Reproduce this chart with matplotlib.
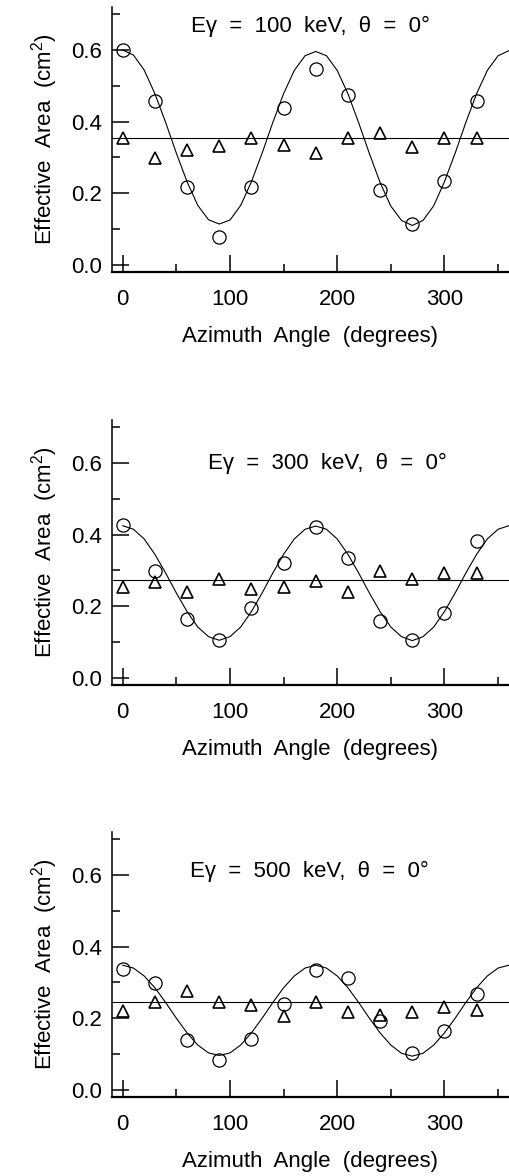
import matplotlib
matplotlib.use('Agg')
import matplotlib.pyplot as plt
from matplotlib.ticker import MultipleLocator

plt.rcParams['font.family'] = ['Liberation Sans', 'DejaVu Sans']
plt.rcParams['mathtext.fontset'] = 'custom'
plt.rcParams['mathtext.rm'] = 'Liberation Sans'
plt.rcParams['mathtext.it'] = 'Liberation Sans'

# azimuth angles of the simulated points (degrees)
angles = [0, 30, 60, 90, 120, 150, 180, 210, 240, 270, 300, 330]

energies = ['100', '300', '500']

# open circles
circ_100 = [0.600, 0.459, 0.217, 0.078, 0.217, 0.438, 0.548, 0.474, 0.210, 0.115, 0.233, 0.459]
circ_300 = [0.428, 0.299, 0.164, 0.105, 0.194, 0.322, 0.421, 0.336, 0.158, 0.105, 0.180, 0.381]
circ_500 = [0.337, 0.298, 0.139, 0.083, 0.141, 0.240, 0.336, 0.312, 0.193, 0.103, 0.164, 0.268]

# open triangles
tri_100 = [0.355, 0.298, 0.320, 0.332, 0.355, 0.334, 0.312, 0.355, 0.369, 0.328, 0.355, 0.355]
tri_300 = [0.253, 0.269, 0.241, 0.277, 0.247, 0.255, 0.271, 0.241, 0.299, 0.277, 0.292, 0.292]
tri_500 = [0.221, 0.246, 0.276, 0.246, 0.238, 0.207, 0.245, 0.218, 0.209, 0.218, 0.230, 0.224]

# flat line levels
flat = [0.353, 0.274, 0.244]

# fitted curves every 10 degrees (0..360)
curve_ang = list(range(0, 361, 10))
curve_100 = [0.600, 0.586, 0.544, 0.478, 0.398, 0.312, 0.232, 0.166, 0.126, 0.114,
             0.125, 0.166, 0.232, 0.312, 0.398, 0.478, 0.543, 0.584, 0.596,
             0.584, 0.543, 0.478, 0.397, 0.311, 0.230, 0.164, 0.124, 0.110,
             0.124, 0.165, 0.232, 0.312, 0.398, 0.478, 0.543, 0.584, 0.598]
curve_300 = [0.425, 0.415, 0.388, 0.345, 0.293, 0.237, 0.185, 0.142, 0.115, 0.105,
             0.115, 0.142, 0.185, 0.237, 0.293, 0.345, 0.388, 0.415, 0.424,
             0.415, 0.388, 0.345, 0.293, 0.237, 0.185, 0.142, 0.115, 0.104,
             0.115, 0.142, 0.185, 0.237, 0.293, 0.345, 0.388, 0.415, 0.425]
curve_500 = [0.348, 0.340, 0.318, 0.285, 0.244, 0.200, 0.159, 0.125, 0.103, 0.096,
             0.103, 0.125, 0.159, 0.200, 0.244, 0.285, 0.318, 0.340, 0.348,
             0.340, 0.318, 0.285, 0.244, 0.200, 0.159, 0.125, 0.102, 0.094,
             0.102, 0.125, 0.159, 0.200, 0.244, 0.285, 0.318, 0.340, 0.348]

circles = [circ_100, circ_300, circ_500]
triangles = [tri_100, tri_300, tri_500]
curves = [curve_100, curve_300, curve_500]

label_pos = [(175, 0.665), (191, 0.60), (174, 0.61)]
bottoms = [0.7687, 0.4175, 0.0672]

fig = plt.figure(figsize=(5.10, 11.76), dpi=100)

for i in range(3):
    ax = fig.add_axes([0.2196, bottoms[i], 0.778, 0.2253])
    ax.plot(curve_ang, curves[i], color='black', lw=0.8)
    ax.axhline(flat[i], color='black', lw=0.8)
    ax.plot(angles, circles[i], 'o', mfc='none', mec='black', ms=9.5, mew=0.9)
    ax.plot(angles, triangles[i], '^', mfc='none', mec='black', ms=8.5, mew=1.2)

    ax.set_xlim(-10, 360)
    ax.set_ylim(-0.02, 0.72)
    ax.xaxis.set_major_locator(MultipleLocator(100))
    ax.xaxis.set_minor_locator(MultipleLocator(50))
    ax.yaxis.set_major_locator(MultipleLocator(0.2))
    ax.yaxis.set_minor_locator(MultipleLocator(0.1))
    ax.yaxis.set_major_formatter(plt.FuncFormatter(lambda v, p: '%.1f' % v))
    ax.tick_params(which='both', direction='in', width=1.1, labelsize=16)
    ax.tick_params(which='major', length=12)
    ax.tick_params(which='minor', length=6)
    ax.tick_params(axis='x', pad=12)
    ax.tick_params(axis='y', pad=7)
    ax.spines['top'].set_visible(False)
    ax.spines['right'].set_visible(False)
    ax.spines['left'].set_linewidth(1.1)
    ax.spines['bottom'].set_linewidth(1.6)

    ax.set_xlabel('Azimuth  Angle  (degrees)', fontsize=16, labelpad=12)
    ax.set_ylabel('Effective  Area  (cm$^2$)', fontsize=16, labelpad=8)
    ax.text(label_pos[i][0], label_pos[i][1],
            'E\u03b3  =  %s  keV,  \u03b8  =  0\u00b0' % energies[i],
            fontsize=16, ha='center', va='center')

fig.savefig('out.png', dpi=100)
